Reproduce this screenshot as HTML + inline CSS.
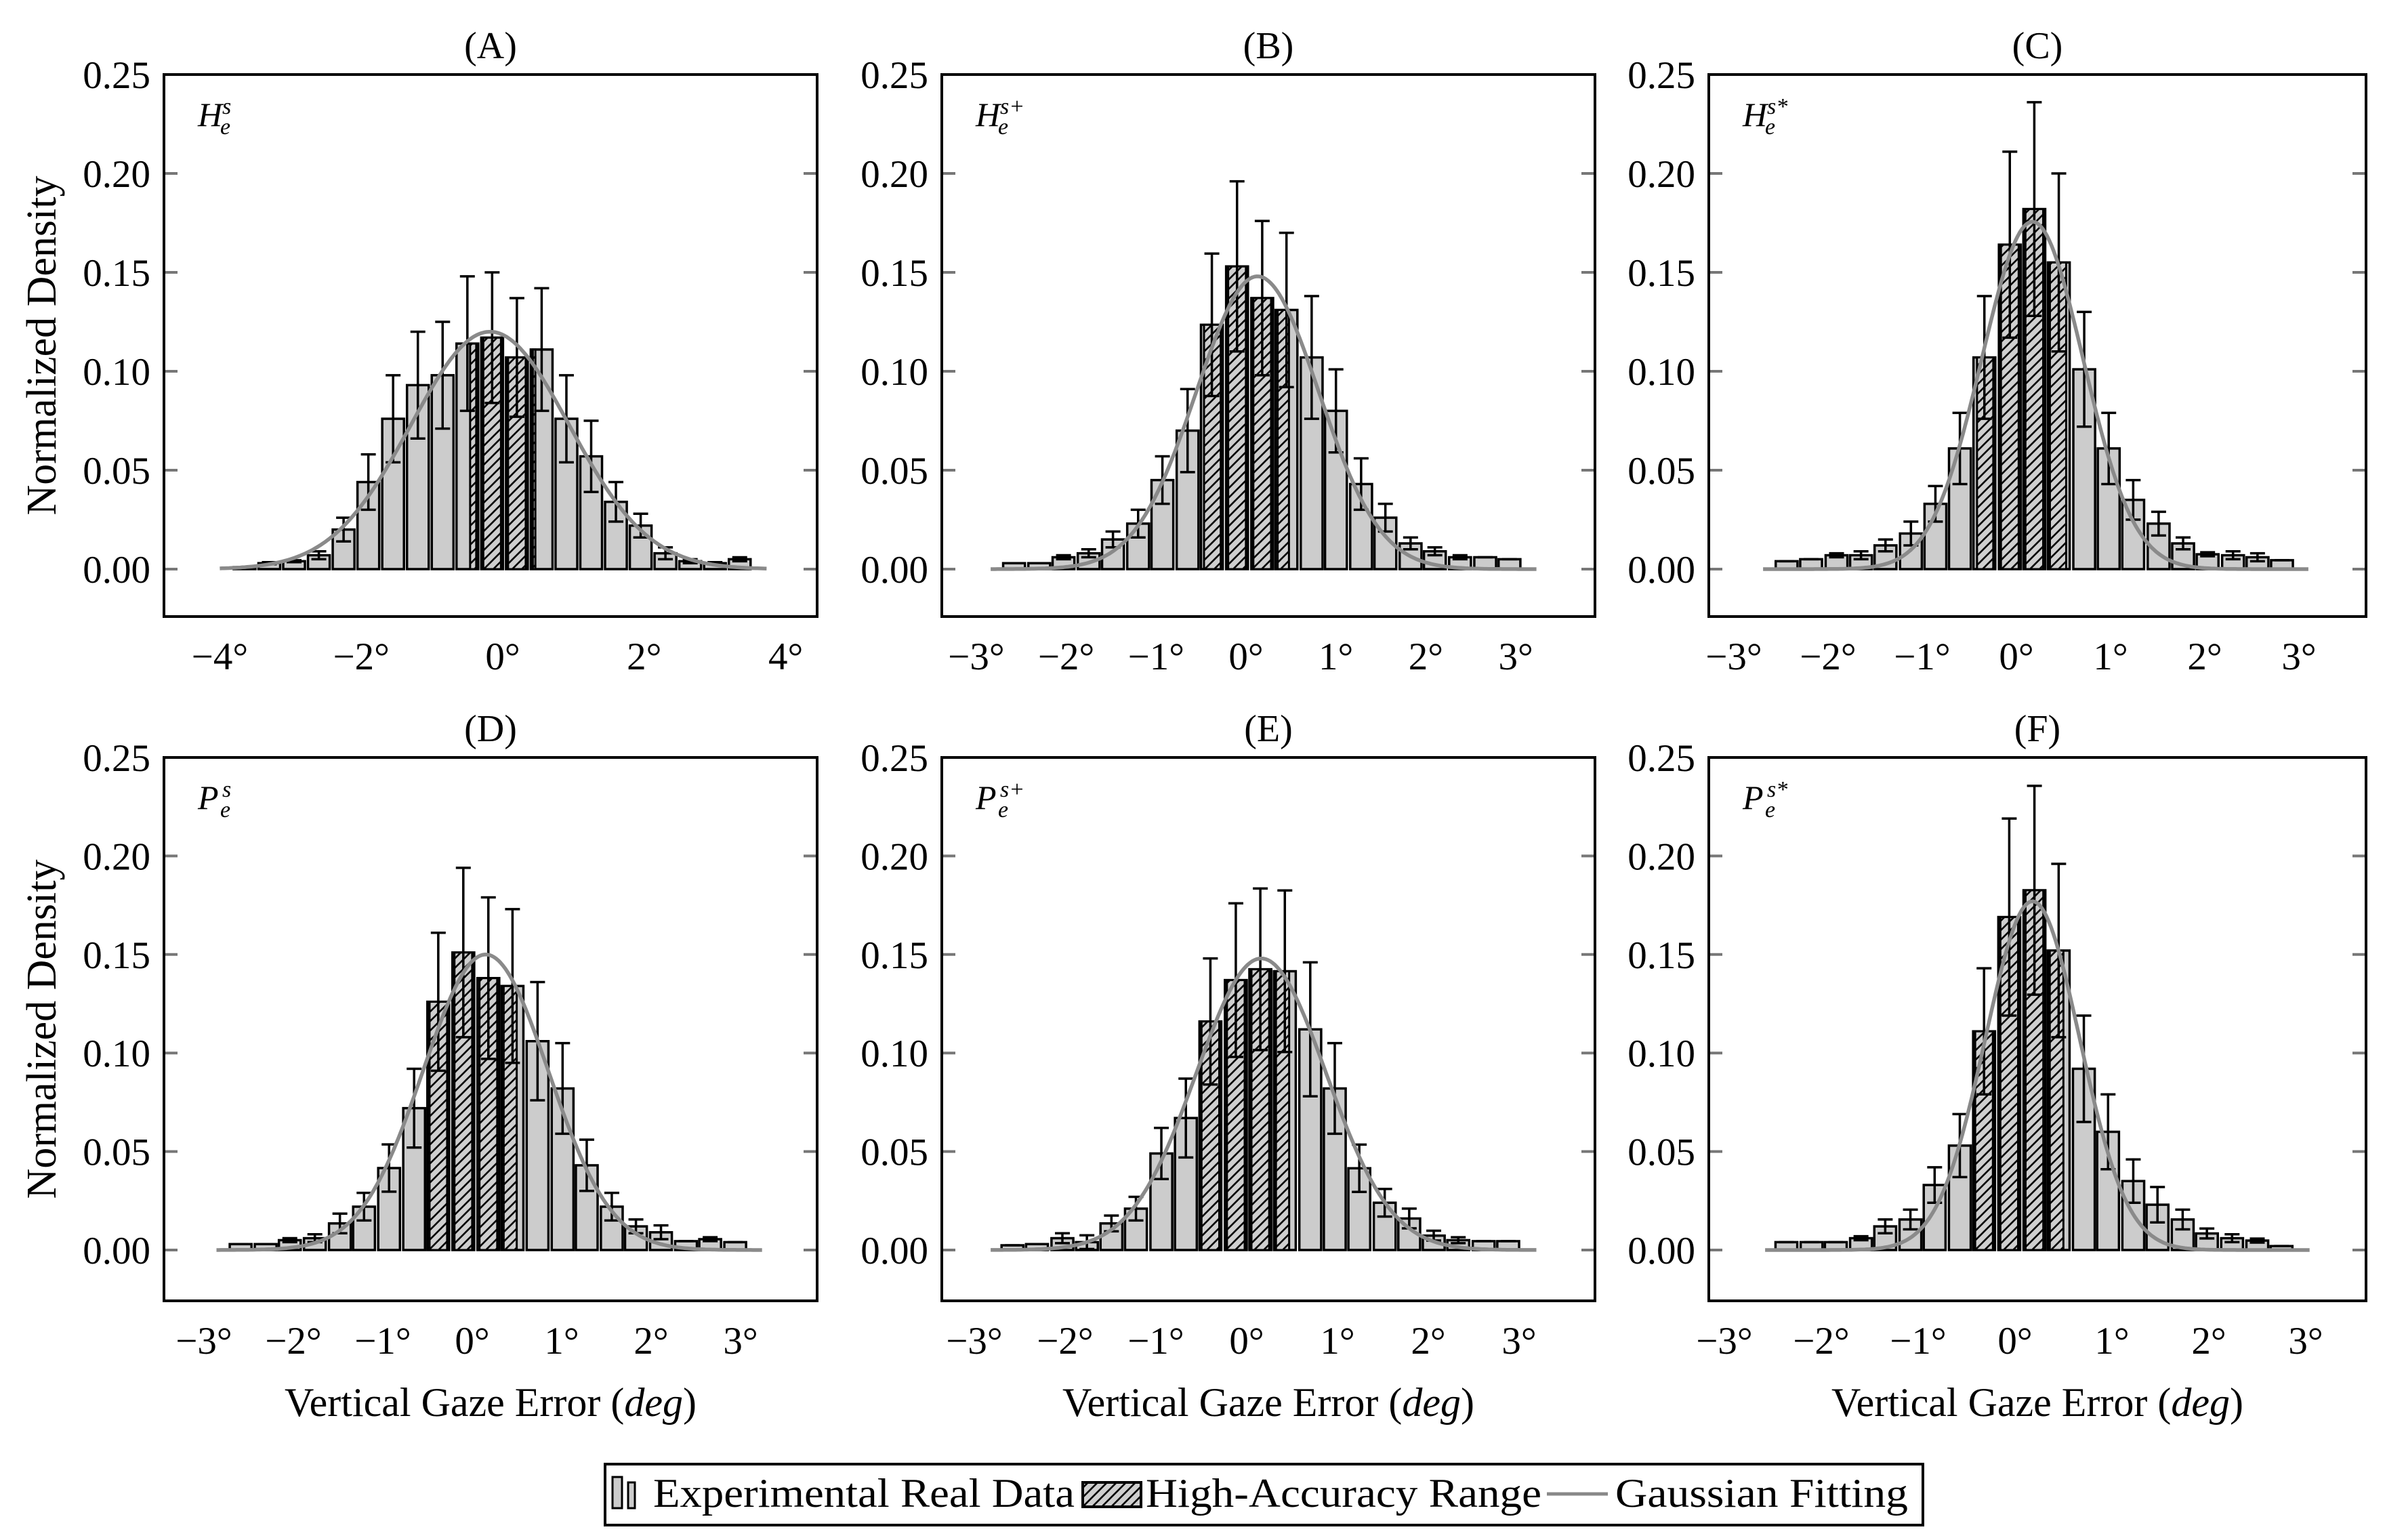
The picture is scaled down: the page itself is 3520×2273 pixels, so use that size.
<!DOCTYPE html>
<html><head><meta charset="utf-8"><style>
html,body{margin:0;padding:0;background:#fff;}
svg{display:block;font-family:"Liberation Serif",serif;}
</style></head><body>
<svg id="fig" xmlns="http://www.w3.org/2000/svg" width="3520" height="2273" viewBox="0 0 3520 2273">
<defs>
<pattern id="hatch" patternUnits="userSpaceOnUse" width="14" height="14">
<rect width="14" height="14" fill="#cfcfcf"/>
<path d="M-2,16 L16,-2 M-9,9 L9,-9 M5,23 L23,5" stroke="#000" stroke-width="2.6"/>
</pattern>
</defs>
<g id="panels"></g>
<g>
<rect x="893" y="2161" width="1945" height="90" fill="#fff" stroke="#000" stroke-width="4"/>
<rect x="904" y="2180" width="14" height="46" fill="#ccc" stroke="#000" stroke-width="3"/>
<rect x="927" y="2188" width="10" height="38" fill="#ccc" stroke="#000" stroke-width="3"/>
<text x="964" y="2224" font-size="60" textLength="622" lengthAdjust="spacingAndGlyphs">Experimental Real Data</text>
<rect x="1598" y="2188" width="86" height="36" fill="url(#hatch)" stroke="#000" stroke-width="4"/>
<text x="1691" y="2224" font-size="60" textLength="584" lengthAdjust="spacingAndGlyphs">High-Accuracy Range</text>
<line x1="2283" y1="2205" x2="2373" y2="2205" stroke="#888" stroke-width="5"/>
<text x="2384" y="2224" font-size="60" textLength="432" lengthAdjust="spacingAndGlyphs">Gaussian Fitting</text>
</g>
</svg>
<script>
// ---- Panel A ----
const aCenters=[-3.65,-3.30,-2.95,-2.60,-2.25,-1.90,-1.55,-1.20,-0.85,-0.50,-0.15,0.20,0.55,0.90,1.25,1.60,1.95,2.30,2.65,3.00,3.35];
const aHeights=[0.001,0.003,0.004,0.007,0.020,0.044,0.076,0.093,0.098,0.114,0.117,0.107,0.111,0.076,0.057,0.034,0.022,0.008,0.004,0.003,0.005];
const aErrors=[0,0.0005,0.0005,0.002,0.006,0.014,0.022,0.027,0.027,0.034,0.033,0.030,0.031,0.022,0.018,0.010,0.006,0.003,0.001,0.0005,0.001];
const aFit=[-0.18,1.12,0.120];
const aRange=[-0.49,0.49];
const aTicks=[-4,-2,0,2,4];
// ---- Panel B ----
const bCenters=[-2.58,-2.30,-2.03,-1.75,-1.48,-1.20,-0.93,-0.65,-0.38,-0.10,0.18,0.45,0.73,1.00,1.28,1.55,1.83,2.10,2.38,2.66,2.93];
const bHeights=[0.003,0.003,0.006,0.008,0.015,0.023,0.045,0.070,0.1235,0.153,0.137,0.131,0.107,0.080,0.043,0.026,0.013,0.009,0.006,0.006,0.005];
const bErrors=[0,0,0.001,0.002,0.004,0.007,0.012,0.021,0.036,0.043,0.039,0.039,0.031,0.021,0.013,0.007,0.003,0.002,0.001,0,0];
const bFit=[0.128,0.68,0.148];
const bRange=[-0.49,0.50];
const bTicks=[-3,-2,-1,0,1,2,3];
// ---- Panel C ----
const cCenters=[-2.44,-2.18,-1.91,-1.65,-1.39,-1.12,-0.86,-0.60,-0.34,-0.07,0.19,0.45,0.72,0.98,1.24,1.51,1.77,2.03,2.30,2.56,2.82];
const cHeights=[0.004,0.005,0.007,0.007,0.012,0.018,0.033,0.061,0.107,0.164,0.182,0.155,0.101,0.061,0.035,0.023,0.013,0.0075,0.007,0.006,0.0045];
const cErrors=[0,0,0.001,0.002,0.003,0.006,0.009,0.018,0.031,0.047,0.054,0.045,0.029,0.018,0.010,0.006,0.003,0.001,0.002,0.002,0];
const cFit=[0.17,0.537,0.1756];
const cRange=[-0.44,0.55];
const cTicks=[-3,-2,-1,0,1,2,3];
// ---- Panel D ----
const dCenters=[-2.59,-2.31,-2.04,-1.76,-1.48,-1.21,-0.93,-0.65,-0.38,-0.10,0.18,0.45,0.73,1.01,1.28,1.56,1.83,2.11,2.39,2.66,2.94];
const dHeights=[0.003,0.003,0.005,0.006,0.0135,0.022,0.0416,0.072,0.126,0.151,0.138,0.134,0.106,0.082,0.043,0.022,0.012,0.009,0.0045,0.0055,0.004];
const dErrors=[0,0,0.001,0.002,0.005,0.007,0.012,0.020,0.035,0.043,0.041,0.039,0.030,0.023,0.013,0.007,0.0035,0.0035,0,0.001,0];
const dFit=[0.15,0.70,0.150];
const dRange=[-0.50,0.52];
const dTicks=[-3,-2,-1,0,1,2,3];
// ---- Panel E ----
const eCenters=[-2.58,-2.31,-2.03,-1.76,-1.49,-1.22,-0.94,-0.67,-0.40,-0.12,0.15,0.42,0.70,0.97,1.24,1.52,1.79,2.06,2.33,2.61,2.88];
const eHeights=[0.0024,0.003,0.006,0.004,0.0135,0.021,0.049,0.067,0.116,0.137,0.1425,0.1415,0.112,0.082,0.0415,0.024,0.016,0.0073,0.005,0.0045,0.0045];
const eErrors=[0,0,0.0025,0.0035,0.004,0.006,0.013,0.020,0.032,0.039,0.041,0.041,0.034,0.023,0.012,0.007,0.005,0.0025,0.0015,0,0];
const eFit=[0.16,0.715,0.148];
const eRange=[-0.54,0.49];
const eTicks=[-3,-2,-1,0,1,2,3];
// ---- Panel F ----
const fCenters=[-2.36,-2.10,-1.85,-1.59,-1.34,-1.08,-0.83,-0.57,-0.32,-0.06,0.20,0.45,0.71,0.96,1.22,1.47,1.73,1.98,2.24,2.50,2.75];
const fHeights=[0.004,0.004,0.004,0.006,0.012,0.0155,0.033,0.053,0.111,0.169,0.1826,0.152,0.092,0.060,0.035,0.023,0.0155,0.0084,0.006,0.0048,0.002];
const fErrors=[0,0,0,0.001,0.0035,0.005,0.009,0.016,0.032,0.050,0.053,0.044,0.027,0.019,0.011,0.009,0.005,0.0025,0.002,0.001,0];
const fFit=[0.18,0.487,0.177];
const fRange=[-0.48,0.52];
const fTicks=[-3,-2,-1,0,1,2,3];
const yTicks=[0,0.05,0.10,0.15,0.20,0.25];
const yTickLabels=["0.00","0.05","0.10","0.15","0.20","0.25"];

const NS="http://www.w3.org/2000/svg";
const root=document.getElementById('panels');
function el(tag,attrs,parent){const e=document.createElementNS(NS,tag);for(const k in attrs)e.setAttribute(k,attrs[k]);(parent||root).appendChild(e);return e;}

const layouts=[
 {id:'a',title:'(A)',sup:'s',base:'H',L:242,R:1206,T:110,B:910,x0:742,ux:104.4,y0:840,uy:2920,dom:[-4,3.73],centers:aCenters,h:aHeights,e:aErrors,fit:aFit,rng:aRange,ticks:aTicks,w:0.349,yl:true,xl:false},
 {id:'b',title:'(B)',sup:'s+',base:'H',L:1390,R:2354,T:110,B:910,x0:1839,ux:132.7,y0:840,uy:2920,dom:[-2.84,3.23],centers:bCenters,h:bHeights,e:bErrors,fit:bFit,rng:bRange,ticks:bTicks,w:0.2755,yl:false,xl:false},
 {id:'c',title:'(C)',sup:'s*',base:'H',L:2522,R:3492,T:110,B:910,x0:2976,ux:139,y0:840,uy:2920,dom:[-2.69,3.1],centers:cCenters,h:cHeights,e:cErrors,fit:cFit,rng:cRange,ticks:cTicks,w:0.263,yl:false,xl:false},
 {id:'d',title:'(D)',sup:'s',base:'P',L:242,R:1206,T:1118,B:1920,x0:697,ux:132,y0:1845,uy:2908,dom:[-2.86,3.24],centers:dCenters,h:dHeights,e:dErrors,fit:dFit,rng:dRange,ticks:dTicks,w:0.2765,yl:true,xl:true},
 {id:'e',title:'(E)',sup:'s+',base:'P',L:1390,R:2354,T:1118,B:1920,x0:1840,ux:134,y0:1845,uy:2908,dom:[-2.82,3.19],centers:eCenters,h:eHeights,e:eErrors,fit:eFit,rng:eRange,ticks:eTicks,w:0.273,yl:false,xl:true},
 {id:'f',title:'(F)',sup:'s*',base:'P',L:2522,R:3492,T:1118,B:1920,x0:2974,ux:143,y0:1845,uy:2908,dom:[-2.58,3.04],centers:fCenters,h:fHeights,e:fErrors,fit:fFit,rng:fRange,ticks:fTicks,w:0.2556,yl:false,xl:true}
];

layouts.forEach(p=>{
 const X=v=>p.x0+v*p.ux, Y=v=>p.y0-v*p.uy;
 const g=el('g',{});
 
 
 const t=el('text',{x:(p.L+p.R)/2,y:p.T-24,'font-size':56,'text-anchor':'middle'},g);t.textContent=p.title;
 
 
 yTicks.forEach((v,i)=>{
  const lt=el('line',{x1:p.L,x2:p.L+20,y1:Y(v),y2:Y(v),stroke:'#777','stroke-width':4},g);
  
  
  const rt=el('line',{x1:p.R-20,x2:p.R,y1:Y(v),y2:Y(v),stroke:'#777','stroke-width':4},g);
  
  
  const tx=el('text',{x:p.L-20,y:Y(v)+20,'font-size':57,'text-anchor':'end'},g);tx.textContent=yTickLabels[i];
  
  
 });
 p.ticks.forEach(v=>{
  const tx=el('text',{x:X(v),y:p.B+78,'font-size':57,'text-anchor':'middle'},g);
  tx.textContent=(v<0?'\u2212'+(-v):''+v)+'\u00b0';
  
  
 });
 const bw=p.w*0.88;
 p.centers.forEach((c,i)=>{
  const x1=X(c-bw/2), x2=X(c+bw/2);
  const r=el('rect',{x:x1,y:Y(p.h[i]),width:x2-x1,height:Y(0)-Y(p.h[i]),fill:'#cccccc',stroke:'#000','stroke-width':3.5},g);
  
  
  const lo=Math.max(c-bw/2,p.rng[0]), hi=Math.min(c+bw/2,p.rng[1]);
  if(hi>lo){
   const hr=el('rect',{x:X(lo)+3,y:Y(p.h[i]),width:Math.max(0,X(hi)-X(lo)-6),height:Y(0)-Y(p.h[i]),fill:'url(#hatch)',stroke:'#000','stroke-width':3},g);
   
   
  }
 });
 p.centers.forEach((c,i)=>{
  const top=p.h[i]+p.e[i], bot=p.h[i]-p.e[i];
  const eg=el('path',{d:`M${X(c)},${Y(top)}V${Y(bot)}M${X(c)-11},${Y(top)}H${X(c)+11}M${X(c)-11},${Y(bot)}H${X(c)+11}`,stroke:'#000','stroke-width':3.5,fill:'none'},g);
  
  
 });
 let d='';const N=240;
 for(let k=0;k<=N;k++){const x=p.dom[0]+(p.dom[1]-p.dom[0])*k/N;const y=p.fit[2]*Math.exp(-Math.pow(x-p.fit[0],2)/(2*p.fit[1]*p.fit[1]));d+=(k?'L':'M')+X(x).toFixed(1)+','+Y(y).toFixed(1);}
 const gp=el('path',{d:d,stroke:'#8a8a8a','stroke-width':5.5,fill:'none','stroke-linejoin':'round'},g);
 
 
 const fr=el('rect',{x:p.L,y:p.T,width:p.R-p.L,height:p.B-p.T,fill:'none',stroke:'#000','stroke-width':4},g);
 
 
 const sx=p.L+50, sy=p.T+76;
 const s1=el('text',{x:sx,y:sy,'font-size':50,'font-style':'italic'},g);s1.textContent=p.base;
 
 
 const s2=el('text',{x:sx+36,y:sy-18,'font-size':34,'font-style':'italic'},g);s2.textContent=p.sup;
 
 
 const s3=el('text',{x:sx+33,y:sy+12,'font-size':34,'font-style':'italic'},g);s3.textContent='e';
 
 
 if(p.yl){
  const yc=(p.T+p.B)/2;
  const yt=el('text',{x:0,y:0,'font-size':62,'text-anchor':'middle',transform:`translate(82,${yc}) rotate(-90)`},g);
  yt.textContent='Normalized Density';
  
  
 }
 if(p.xl){
  const xt=el('text',{x:(p.L+p.R)/2,y:2090,'font-size':60,'text-anchor':'middle'},g);
  xt.innerHTML='Vertical Gaze Error (<tspan font-style="italic">deg</tspan>)';
  
  
 }
});
</script>
</body></html>
